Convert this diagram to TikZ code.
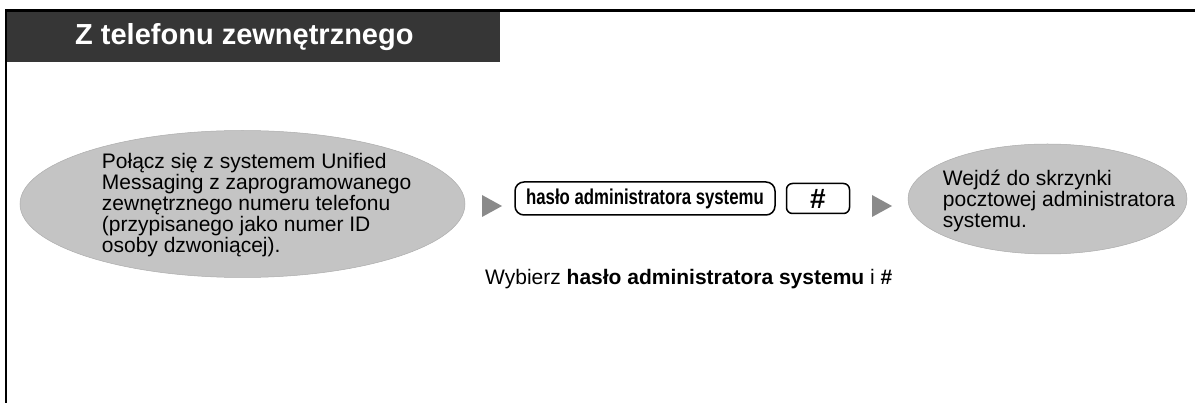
\documentclass[tikz,border=0pt]{standalone}
\usepackage{fontspec}
\setmainfont{Liberation Sans}
\newfontfamily\narrowfont[FakeStretch=0.78]{Liberation Sans}
\usetikzlibrary{positioning, shapes.geometric, calc}
\usepackage{xcolor}

\definecolor{headgray}{RGB}{54,54,54}
\definecolor{bubblegray}{RGB}{196,196,196}
\definecolor{markgray}{RGB}{138,138,138}

\begin{document}
\begin{tikzpicture}[
  x=1pt, y=-1pt,
  every node/.style={inner sep=0pt, font=\fontsize{21}{21}\selectfont},
  bubble/.style={ellipse, fill=bubblegray, draw=bubblegray!88!black, line width=0.5pt},
  keybox/.style={draw, line width=1.5pt, rounded corners=#1, minimum height=33pt,
                 font=\narrowfont\bfseries\fontsize{21.5}{21.5}\selectfont},
  keybox/.default=9pt
]
\useasboundingbox (0,0) rectangle (1195,403);

% frame and header
\fill[headgray] (5,11) rectangle (500,62);
\draw[line width=2.5pt] (5,10.5) -- (1195,10.5);
\draw[line width=2pt] (5.8,10) -- (5.8,403);
\node[anchor=west, text=white, font=\bfseries\fontsize{29}{29}\selectfont] (title) at (75,37)
  {Z telefonu zewnętrznego};

\def\stepmark#1{%
  \fill[markgray] (#1) -- ++(0,-11) -- ++(20,11) -- ++(-20,11) -- cycle;
}

% first step
\node[bubble, minimum width=445pt, minimum height=147pt] (call) at (242.5,204) {};
\node[anchor=west, align=left] (calltext) at ([xshift=82pt, yshift=-1pt]call.west)
  {Połącz się z systemem Unified\\Messaging z zaprogramowanego\\zewnętrznego numeru telefonu\\(przypisanego jako numer ID\\osoby dzwoniącej).};

% keys
\coordinate (mark1) at (482,206);
\stepmark{mark1}
\node[keybox, minimum width=260pt] (pwd) at (645,198.5) {hasło administratora systemu};
\node[keybox=6pt, minimum width=63pt, minimum height=30pt, right=10pt of pwd,
      font=\bfseries\fontsize{28}{28}\selectfont] (hash) {\#};
\coordinate (mark2) at (872,206);
\stepmark{mark2}

% last step
\node[bubble, minimum width=279pt, minimum height=110pt] (mailbox) at (1047.5,199) {};
\node[anchor=west, align=left] (mailtext) at ([xshift=35pt, yshift=-2pt]mailbox.west)
  {Wejdź do skrzynki\\pocztowej administratora\\systemu.};

% caption
\node[anchor=base west] (hint) at (485,285)
  {Wybierz \textbf{hasło administratora systemu} i \textbf{\#}};
\end{tikzpicture}
\end{document}
